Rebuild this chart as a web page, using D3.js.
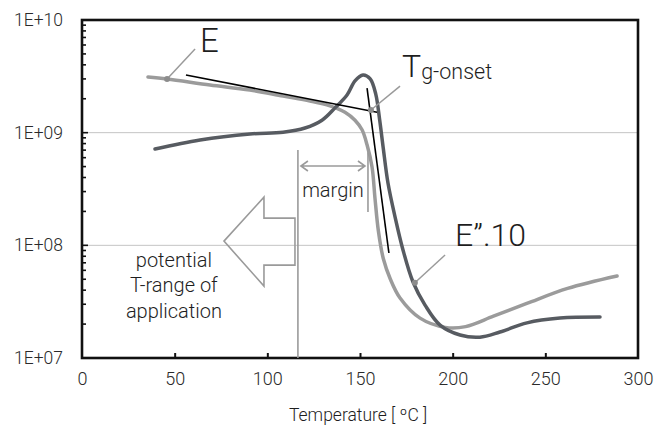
<!DOCTYPE html>
<html>
<head>
<meta charset="utf-8">
<script src="https://cdn.jsdelivr.net/npm/d3@7"></script>
<style>
  body { margin: 0; background: #fff; }
  text { font-family: "Roboto", "Liberation Sans", sans-serif; font-weight: 300; }
</style>
</head>
<body>
<div id="chart"></div>
<script>
// storage modulus E' (light curve)
var tempE = [35.6, 45.9, 69.1, 90.6, 108.5, 123.0, 133.8, 141.9, 147.3, 151.1, 153.8, 156.5, 158.1, 159.9, 162.6, 166.4, 171.6, 182.4, 196.0, 207.0, 222.0, 240.0, 262.0, 288.7];
var valE = [3.12e9, 2.99e9, 2.65e9, 2.39e9, 2.11e9, 1.91e9, 1.73e9, 1.52e9, 1.29e9, 1.06e9, 7.8e8, 4.96e8, 2.6e8, 1.35e8, 7.6e7, 5.0e7, 3.41e7, 2.26e7, 1.87e7, 1.9e7, 2.35e7, 3.05e7, 4.15e7, 5.35e7];

// loss modulus E'' x 10 (dark curve)
var tempLoss = [39.4, 63.7, 90.6, 108.5, 120.3, 129.5, 136.5, 143.0, 147.3, 151.6, 155.5, 158.5, 160.6, 162.5, 165.1, 168.9, 173.2, 178.6, 185.1, 193.2, 204.0, 214.7, 225.5, 240.1, 257.9, 279.5];
var valLoss = [7.16e8, 8.61e8, 9.73e8, 1.01e9, 1.10e9, 1.29e9, 1.66e9, 2.16e9, 2.88e9, 3.25e9, 3.0e9, 2.2e9, 1.3e9, 7.4e8, 3.57e8, 1.79e8, 9.1e7, 4.73e7, 2.95e7, 1.96e7, 1.60e7, 1.53e7, 1.70e7, 2.05e7, 2.26e7, 2.31e7];

// tangent lines used to find the onset
var tangentFlat = [[56.1, 3.25e9], [159.2, 1.52e9]];
var tangentSteep = [[153.8, 2.49e9], [165.6, 8.55e7]];

// ticks
var xTicks = [0, 50, 100, 150, 200, 250, 300];
var yTicks = [1e7, 1e8, 1e9, 1e10];
var yTickLabels = ["1E+07", "1E+08", "1E+09", "1E+10"];
var gridLines = [1e8, 1e9];

var width = 654, height = 426;
var marginTop = 20, marginRight = 16, marginBottom = 68, marginLeft = 82;

var svg = d3.select("#chart").append("svg")
    .attr("width", width)
    .attr("height", height);

var x = d3.scaleLinear().domain([0, 300]).range([marginLeft, width - marginRight]);
var y = d3.scaleLog().domain([1e7, 1e10]).range([height - marginBottom, marginTop]);

// grid lines
svg.append("g")
  .selectAll("line")
  .data(gridLines)
  .join("line")
    .attr("x1", x(0)).attr("x2", x(300))
    .attr("y1", d => y(d)).attr("y2", d => y(d))
    .attr("stroke", "#c4c4c4")
    .attr("stroke-width", 1);

// minor log ticks on the left axis
var minor = [];
[1e7, 1e8, 1e9].forEach(dec => { for (var k = 2; k <= 9; k++) minor.push(dec * k); });

svg.append("g")
  .selectAll("line")
  .data(minor)
  .join("line")
    .attr("x1", x(0)).attr("x2", x(0) + 4)
    .attr("y1", d => y(d)).attr("y2", d => y(d))
    .attr("stroke", "#111")
    .attr("stroke-width", 1.6);

svg.append("g")
  .selectAll("line")
  .data(gridLines)
  .join("line")
    .attr("x1", x(0)).attr("x2", x(0) + 6)
    .attr("y1", d => y(d)).attr("y2", d => y(d))
    .attr("stroke", "#111")
    .attr("stroke-width", 1.6);

// x axis: ticks point inward
var xAxis = d3.axisBottom(x).tickValues(xTicks).tickSize(-5).tickPadding(14).tickFormat(d3.format("d"));
svg.append("g")
    .attr("transform", `translate(0,${y(1e7)})`)
    .call(xAxis)
    .call(g => g.select(".domain").remove())
    .call(g => g.selectAll(".tick line").attr("stroke", "#111").attr("stroke-width", 2)
        .filter(d => d === 0 || d === 300).remove())
    .call(g => g.selectAll(".tick text").attr("fill", "#2a2a2a").style("font-size", "18px"));

// y axis labels
var yAxis = d3.axisLeft(y).tickValues(yTicks).tickSize(0).tickPadding(19)
    .tickFormat((d, i) => yTickLabels[i]);
svg.append("g")
    .attr("transform", `translate(${marginLeft},0)`)
    .call(yAxis)
    .call(g => g.select(".domain").remove())
    .call(g => g.selectAll(".tick text").attr("fill", "#2a2a2a").style("font-size", "17.5px"));

// frame
svg.append("rect")
    .attr("x", x(0)).attr("y", y(1e10))
    .attr("width", x(300) - x(0)).attr("height", y(1e7) - y(1e10))
    .attr("fill", "none")
    .attr("stroke", "#111")
    .attr("stroke-width", 2.6);

var line = d3.line()
    .curve(d3.curveCatmullRom.alpha(0.5))
    .x(d => x(d[0]))
    .y(d => y(d[1]));

var seriesE = d3.zip(tempE, valE);
var seriesLoss = d3.zip(tempLoss, valLoss);

svg.append("path")
    .attr("d", line(seriesE))
    .attr("fill", "none")
    .attr("stroke", "#9b9b9b")
    .attr("stroke-width", 3.5)
    .attr("stroke-linecap", "round");

svg.append("path")
    .attr("d", line(seriesLoss))
    .attr("fill", "none")
    .attr("stroke", "#575b61")
    .attr("stroke-width", 3.5)
    .attr("stroke-linecap", "round");

// tangents
[tangentFlat, tangentSteep].forEach(t => {
  svg.append("line")
      .attr("x1", x(t[0][0])).attr("y1", y(t[0][1]))
      .attr("x2", x(t[1][0])).attr("y2", y(t[1][1]))
      .attr("stroke", "#000")
      .attr("stroke-width", 1.6);
});

// annotation styles
var grey = "#9a9a9a";
var ink = "#1e1e1e";

// leader lines with marker dots
var leaders = [
  {from: [45.9, 2.99e9], to: [61.0, 5.54e9]},
  {from: [155.9, 1.59e9], to: [171.6, 2.59e9]},
  {from: [179.6, 4.65e7], to: [195.9, 8.2e7]}
];
leaders.forEach(l => {
  svg.append("line")
      .attr("x1", x(l.from[0])).attr("y1", y(l.from[1]))
      .attr("x2", x(l.to[0])).attr("y2", y(l.to[1]))
      .attr("stroke", grey).attr("stroke-width", 1.5);
  svg.append("circle")
      .attr("cx", x(l.from[0])).attr("cy", y(l.from[1]))
      .attr("r", 3).attr("fill", "#8c8c8c");
});

// labels
svg.append("text")
    .attr("x", x(63.7)).attr("y", y(5.2e9))
    .attr("fill", ink).style("font-size", "33px")
    .text("E");

var tg = svg.append("text")
    .attr("x", x(172.7)).attr("y", y(3.12e9))
    .attr("fill", ink).style("font-size", "32px");
tg.append("tspan").text("T");
tg.append("tspan").attr("dy", 2).style("font-size", "21.5px").text("g-onset");

svg.append("text")
    .attr("x", x(201.3)).attr("y", y(9.86e7))
    .attr("fill", ink).style("font-size", "32px")
    .text("E\u201d.10");

// margin: two vertical markers and a double arrow
var marginLeftT = 116.5, marginRightT = 154.3;
svg.append("line")
    .attr("x1", x(marginLeftT)).attr("x2", x(marginLeftT))
    .attr("y1", y(7.0e8)).attr("y2", y(1e7))
    .attr("stroke", grey).attr("stroke-width", 1.6);
svg.append("line")
    .attr("x1", x(marginRightT)).attr("x2", x(marginRightT))
    .attr("y1", y(6.7e8)).attr("y2", y(1.98e8))
    .attr("stroke", grey).attr("stroke-width", 1.6);

var arrowY = y(5.06e8);
var ax1 = x(marginLeftT) + 3, ax2 = x(marginRightT) - 3;
svg.append("path")
    .attr("d", `M${ax1},${arrowY}H${ax2}M${ax1 + 7},${arrowY - 5}L${ax1},${arrowY}L${ax1 + 7},${arrowY + 5}M${ax2 - 7},${arrowY - 5}L${ax2},${arrowY}L${ax2 - 7},${arrowY + 5}`)
    .attr("fill", "none").attr("stroke", grey).attr("stroke-width", 1.6);

svg.append("text")
    .attr("x", (x(marginLeftT) + x(marginRightT)) / 2).attr("y", y(2.69e8))
    .attr("text-anchor", "middle")
    .attr("fill", ink).style("font-size", "20px")
    .text("margin");

// hollow arrow pointing to the application range
var tipX = x(76.6), tipY = y(1.09e8);
var headX = tipX + 40, tailX = tipX + 71;
svg.append("path")
    .attr("d", `M${tipX},${tipY}L${headX},${tipY - 44}V${tipY - 23}H${tailX}V${tipY + 24}H${headX}V${tipY + 45}Z`)
    .attr("fill", "none").attr("stroke", grey).attr("stroke-width", 1.6)
    .attr("stroke-linejoin", "miter");

var appText = ["potential", "T-range of", "application"];
svg.append("text")
    .attr("x", x(49.6)).attr("y", y(6.43e7))
    .attr("text-anchor", "middle")
    .attr("fill", ink).style("font-size", "20px")
  .selectAll("tspan")
  .data(appText)
  .join("tspan")
    .attr("x", x(49.6))
    .attr("dy", (d, i) => i === 0 ? 0 : 25.5)
    .text(d => d);

// x axis title
svg.append("text")
    .attr("x", x(149)).attr("y", 421)
    .attr("text-anchor", "middle")
    .attr("fill", ink).style("font-size", "17.5px")
    .text("Temperature [ ºC ]");
</script>
</body>
</html>
